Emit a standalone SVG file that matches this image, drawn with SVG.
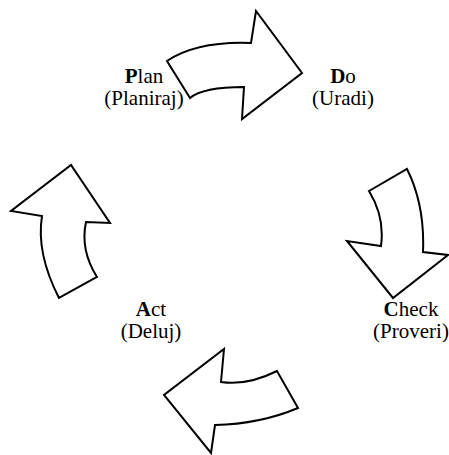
<svg xmlns="http://www.w3.org/2000/svg" width="449" height="455" viewBox="0 0 449 455">
<style>
.arr{fill:#fff;stroke:#000;stroke-width:2;stroke-linejoin:miter}
text{font-family:"Liberation Serif",serif;font-size:21px;fill:#000;text-anchor:middle}
.b{font-weight:bold}
</style>
<rect width="449" height="455" fill="#fff"/>
<g id="connectors">
<path id="arrow-plan-do" class="arr" d="M167,61 Q197,41 251,43 L256,11 L302,73 L242,119 L244,87 Q203,87 190,98 Z"/>
<path id="arrow-do-check" class="arr" d="M407,169 Q425,205 423,252 L448,255 L393,298 L347,241 L381,246 Q385,217 369,191 Z"/>
<path id="arrow-check-act" class="arr" d="M277,371 Q247,386 221,382 L224,349 L164,395 L211,453 L215,425 Q260,424 298,408 Z"/>
<path id="arrow-act-plan" class="arr" d="M59,298 Q36,253 42,216 L11,211 L71,165 L110,223 L86,222 Q80,250 97,277 Z"/>
</g>
<g id="plan"><text x="144" y="83" style="font-family:'Liberation Serif',serif"><tspan class="b">P</tspan>lan</text><text x="144" y="105" style="font-family:'Liberation Serif',serif">(Planiraj)</text></g>
<g id="do"><text x="343" y="83" style="font-family:'Liberation Serif',serif"><tspan class="b">D</tspan>o</text><text x="343" y="105" style="font-family:'Liberation Serif',serif">(Uradi)</text></g>
<g id="check"><text x="411" y="316" style="font-family:'Liberation Serif',serif"><tspan class="b">C</tspan>heck</text><text x="411" y="338" style="font-family:'Liberation Serif',serif">(Proveri)</text></g>
<g id="act"><text x="151" y="316" style="font-family:'Liberation Serif',serif"><tspan class="b">A</tspan>ct</text><text x="151" y="338" style="font-family:'Liberation Serif',serif">(Deluj)</text></g>
</svg>
